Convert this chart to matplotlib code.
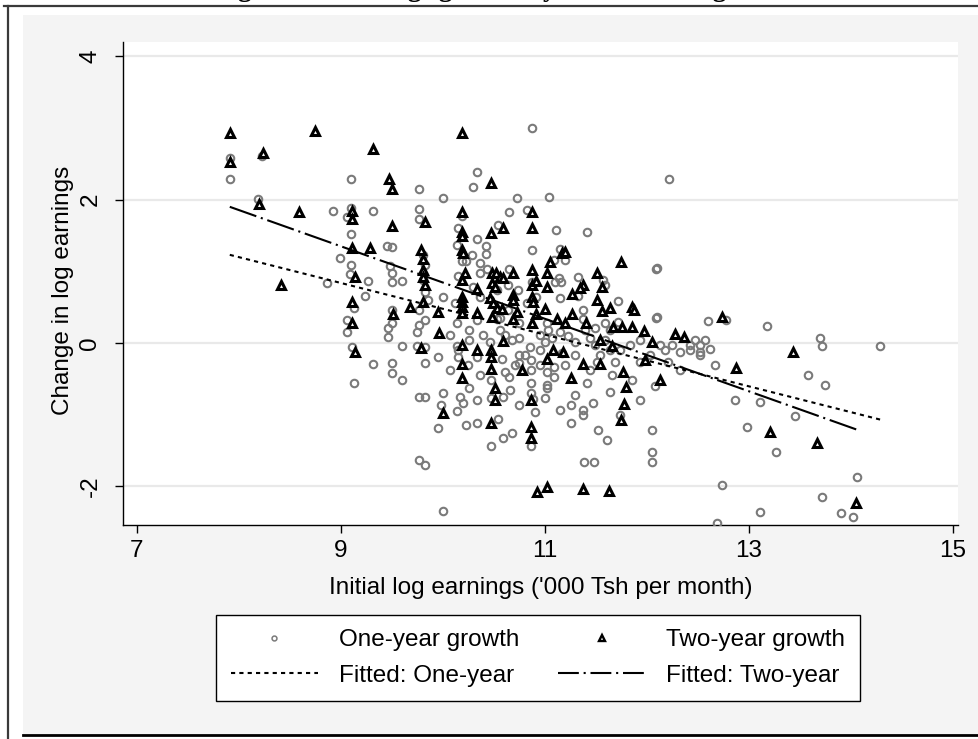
import matplotlib
matplotlib.use("Agg")
import matplotlib.pyplot as plt
from matplotlib.lines import Line2D
from matplotlib.patches import Rectangle
from matplotlib import font_manager

# ---------------- data ----------------
one_year_x = [7.91, 7.91, 8.23, 8.19, 8.92, 8.86, 8.99,
              9.10, 9.10, 9.06, 9.10, 9.10, 9.09, 9.06, 9.13, 9.06, 9.11, 9.13,
              9.31, 9.27, 9.24, 9.31,
              9.45, 9.50, 9.48, 9.50, 9.50, 9.60, 9.50, 9.50, 9.46, 9.46, 9.60, 9.50, 9.50, 9.60,
              9.77, 9.77, 9.77, 9.80, 9.82, 9.82, 9.77, 9.82, 9.75, 9.77, 9.75, 9.82, 9.82, 9.77, 9.82, 9.77, 9.82, 9.85, 9.80,
              9.95, 9.95, 10.00, 10.00, 10.00, 9.98, 10.00,
              10.87, 10.33, 10.29, 10.73, 11.04, 10.65, 10.82, 10.19, 10.54, 10.15, 11.11, 11.41, 10.33, 10.14, 10.42, 10.42,
              10.19, 10.23, 10.28, 10.36, 10.87, 11.15, 11.20, 11.09, 11.32, 11.57, 11.59, 12.10, 10.15, 10.36, 10.43, 10.65,
              10.87, 11.14, 11.16, 11.10, 10.74, 10.29, 10.36, 10.53, 10.64, 10.91, 11.15, 11.32, 11.37, 11.72, 11.72, 12.10,
              11.59, 10.82, 10.64, 10.12, 10.33, 10.14, 10.53, 10.75, 11.02, 11.37,
              10.14, 10.15, 10.15, 10.33, 10.33, 10.14, 10.17, 10.20, 10.23, 10.33, 10.47, 10.47, 10.47, 10.54, 10.59, 10.59,
              10.68, 10.65, 10.75, 10.75, 10.86, 10.86, 10.86, 10.86, 10.88, 10.90, 10.86, 11.02, 11.02, 11.02, 11.09, 11.09,
              11.17, 11.26, 11.37, 11.37, 11.26, 11.41, 11.47, 11.51, 10.58, 10.46, 10.85,
              11.38, 11.48, 12.05, 12.05, 12.05, 11.74, 11.93, 12.08, 11.66, 11.93, 11.64, 11.85, 12.18, 12.42, 12.52, 12.57,
              12.21, 12.32, 11.52, 11.61,
              12.22, 12.09, 12.09, 12.60, 12.78, 13.18, 12.52, 12.62, 12.67, 12.86, 12.98, 13.11, 13.45, 13.27, 12.74, 12.69,
              13.11, 13.72, 13.90, 14.02, 14.06, 13.70, 13.72, 14.29, 13.75, 13.58, 12.25, 12.32, 12.42, 12.47, 12.52,
              10.56, 10.61, 10.68, 10.75, 10.95, 11.00, 11.07, 11.15, 11.23, 11.29, 11.44, 11.49, 11.59, 11.64, 11.29, 11.20,
              10.95, 10.80, 10.71, 10.61, 10.39, 10.26, 10.25, 10.36, 10.26, 10.07, 10.66, 10.75, 11.00, 11.15, 11.29, 11.44,
              11.54, 11.74, 11.83, 11.93, 12.03, 12.13, 11.69, 10.95, 11.03, 11.39, 11.49, 11.64, 10.56, 10.26, 10.07]
one_year_y = [2.58, 2.29, 2.61, 2.01, 1.84, 0.84, 1.19,
              2.29, 1.88, 1.76, 1.52, 1.09, 0.96, 0.32, 0.49, 0.15, -0.06, -0.56,
              1.84, 0.86, 0.66, -0.29,
              1.35, 1.34, 1.07, 0.98, 0.85, 0.86, 0.46, 0.28, 0.21, 0.08, -0.04, -0.28, -0.42, -0.52,
              2.15, 1.87, 1.73, 1.23, 1.09, 0.71, 0.46, 0.32, 0.15, 0.25, -0.04, -0.06, -0.28, -0.75, -0.75, -1.63, -1.70, 0.60, 0.88,
              -0.20, -1.19, -0.70, 2.02, -2.34, -0.86, 0.64,
              3.00, 2.38, 2.18, 2.02, 2.04, 1.83, 1.85, 1.77, 1.65, 1.60, 1.58, 1.55, 1.45, 1.37, 1.35, 1.24,
              1.14, 1.14, 1.23, 1.12, 1.30, 1.31, 1.16, 1.16, 0.92, 0.88, 0.81, 1.05, 0.93, 0.98, 1.03, 1.03,
              0.85, 0.91, 0.85, 0.85, 0.74, 0.78, 0.64, 0.74, 0.81, 0.64, 0.63, 0.66, 0.46, 0.59, 0.29, 0.36,
              0.28, 0.56, 0.46, 0.56, 0.32, 0.28, 0.33, 0.28, 0.28, 0.33,
              -0.04, -0.10, -0.20, -0.20, -0.79, -0.95, -0.75, -0.84, -1.14, -1.12, -0.52, -0.77, -1.44, -1.06, -0.75, -1.32,
              -1.26, -0.47, -0.17, -0.28, -0.24, -0.38, -0.56, -0.70, -0.78, -0.96, -1.44, -0.40, -0.59, -0.63, -0.33, -0.47,
              -0.14, -0.86, -0.93, -1.00, -1.12, -0.56, -0.84, -0.26, -0.22, 0.01, -0.06,
              -1.66, -1.66, -1.21, -1.52, -1.66, -1.00, -0.79, -0.60, -0.45, -0.26, -0.68, -0.52, -0.10, -0.10, -0.17, 0.04,
              -0.26, -0.38, -1.21, -1.35,
              2.29, 1.03, 0.35, 0.31, 0.32, 0.24, -0.13, -0.08, -0.31, -0.79, -1.17, -0.82, -1.02, -1.52, -1.98, -2.51,
              -2.36, -2.15, -2.37, -2.43, -1.87, 0.07, -0.04, -0.04, -0.59, -0.45, -0.03, -0.13, -0.03, 0.04, -0.03,
              0.18, 0.11, 0.04, 0.07, 0.11, 0.01, 0.07, 0.15, 0.10, 0.01, 0.07, -0.03, 0.04, -0.10, -0.17, -0.31,
              -0.31, -0.17, -0.31, -0.40, 0.11, 0.04, -0.31, -0.45, -0.63, -0.38, -0.66, -0.86, -0.77, -0.93, -0.73, -0.38,
              -0.17, -0.10, -0.03, 0.04, -0.17, -0.03, -0.26, -0.10, 0.18, 0.18, 0.21, 0.18, 0.35, 0.18, 0.11]

two_year_x = [7.91, 7.91, 8.24, 8.20, 8.75, 8.59, 9.31, 9.47, 9.50, 9.11, 9.11, 9.50, 9.11, 9.28, 8.41, 9.14,
              9.78, 9.82, 9.80, 9.80, 9.80, 9.82, 9.68, 9.51, 9.11, 9.11, 9.80, 9.95, 9.14, 9.78,
              10.19, 10.47, 10.19, 10.19, 10.19, 10.19, 10.20, 10.59, 10.47, 10.87, 10.87, 11.17, 11.20, 11.05, 11.75,
              10.22, 10.48, 10.52, 10.56, 10.59, 10.69, 10.87, 11.02, 11.51, 10.19, 10.33, 10.48, 10.51, 10.87, 10.91,
              11.02, 11.37, 11.34, 11.56, 11.27, 11.51, 11.64, 11.56, 11.85, 11.87, 10.19, 10.19, 10.19, 10.19,
              10.46, 10.49, 10.53, 10.69, 10.69, 10.87, 10.88, 10.58, 10.73, 10.91, 11.00, 11.12, 11.20, 11.27, 11.40,
              11.67, 11.76, 11.85, 10.33, 10.48, 10.69, 10.87,
              10.47, 10.47, 10.47, 10.51, 10.51, 10.47, 10.86, 10.86, 10.86, 11.02, 11.37, 11.26, 10.78, 10.59,
              10.19, 10.19, 10.00, 10.33, 10.19, 11.08, 11.18, 10.92, 11.02, 11.37, 11.63, 12.74,
              11.54, 11.66, 11.77, 11.79, 11.78, 11.75, 11.97, 12.05, 12.28, 12.36, 12.87, 13.21, 13.43, 13.67, 14.05,
              11.98, 11.54, 12.13, 9.96]
two_year_y = [2.93, 2.52, 2.65, 1.94, 2.96, 1.83, 2.71, 2.29, 2.15, 1.84, 1.73, 1.63, 1.32, 1.32, 0.81, 0.92,
              1.30, 1.69, 1.17, 1.02, 0.92, 0.81, 0.50, 0.40, 0.57, 0.28, 0.57, 0.43, -0.13, -0.07,
              2.93, 2.23, 1.83, 1.55, 1.49, 1.30, 1.26, 1.60, 1.53, 1.83, 1.60, 1.26, 1.27, 1.13, 1.13,
              0.98, 0.98, 0.98, 0.92, 0.91, 0.98, 1.02, 0.98, 0.98, 0.88, 0.75, 0.84, 0.78, 0.81, 0.86,
              0.78, 0.81, 0.77, 0.78, 0.68, 0.60, 0.49, 0.45, 0.50, 0.46, 0.64, 0.57, 0.50, 0.42,
              0.63, 0.56, 0.49, 0.67, 0.60, 0.64, 0.57, 0.47, 0.43, 0.40, 0.47, 0.33, 0.28, 0.40, 0.28,
              0.22, 0.22, 0.22, 0.42, 0.36, 0.33, 0.28,
              -0.10, -0.20, -0.36, -0.63, -0.79, -1.12, -0.79, -1.17, -1.32, -0.22, -0.29, -0.49, -0.38, 0.03,
              -0.29, -0.49, -0.98, -0.10, -0.03, -0.10, -0.13, -2.08, -2.01, -2.04, -2.06, 0.36,
              0.04, -0.04, -0.40, -0.61, -0.85, -1.07, 0.17, 0.01, 0.13, 0.08, -0.35, -1.24, -0.13, -1.39, -2.23,
              -0.24, -0.29, -0.52, 0.14]

fit_one_x = [7.91, 14.29]
fit_one_y = [1.23, -1.07]
fit_two_x = [7.91, 14.06]
fit_two_y = [1.90, -1.21]

x_ticks = [7, 9, 11, 13, 15]
y_ticks = [-2, 0, 2, 4]
x_label = "Initial log earnings ('000 Tsh per month)"
y_label = "Change in log earnings"
title_text = "Figure 4: Earnings growth by initial earnings"
legend_labels = ["One-year growth", "Two-year growth", "Fitted: One-year", "Fitted: Two-year"]

# ---------------- style ----------------
names = {f.name for f in font_manager.fontManager.ttflist}
if "Liberation Sans Narrow" in names:
    fam, fs = "Liberation Sans Narrow", 21.5
else:
    fam, fs = "Liberation Sans", 17.5
plt.rcParams["font.family"] = [fam, "DejaVu Sans"]
plt.rcParams["axes.unicode_minus"] = False

W, H = 979, 739
fig = plt.figure(figsize=(W / 100, H / 100), dpi=100)
fig.patch.set_facecolor("white")

def fx(p):
    return p / W

def fy(p):
    return 1 - p / H

# outer gray panel and frame lines
fig.add_artist(Rectangle((fx(23), fy(735)), fx(979) - fx(23), fy(15) - fy(735),
                         transform=fig.transFigure, facecolor="#f4f4f4",
                         edgecolor="none", zorder=-5))
fig.add_artist(Line2D([fx(4), fx(979)], [fy(6), fy(6)], transform=fig.transFigure,
                      color="#3a3a3a", lw=1.6, zorder=5))
fig.add_artist(Line2D([fx(8), fx(8)], [fy(6), fy(739)], transform=fig.transFigure,
                      color="#3a3a3a", lw=1.6, zorder=5))
fig.add_artist(Line2D([fx(23), fx(979)], [fy(735), fy(735)], transform=fig.transFigure,
                      color="black", lw=2, zorder=5))

# title of the page figure, cropped at the top edge (only descenders visible)
fig.text(fx(475), 1 + 4.5 / H, title_text, ha="center", va="baseline",
         family="Liberation Serif", fontweight="bold", fontsize=19.5)

ax = fig.add_axes([fx(123), fy(525), fx(958) - fx(123), fy(42) - fy(525)])
ax.set_facecolor("white")
ax.set_xlim(6.863, 15.05)
ax.set_ylim(-2.54, 4.20)

for s in ["top", "right"]:
    ax.spines[s].set_visible(False)
for s in ["left", "bottom"]:
    ax.spines[s].set_color("black")
    ax.spines[s].set_linewidth(1.0)

ax.set_xticks(x_ticks)
ax.set_yticks(y_ticks)
ax.yaxis.grid(True, color="#e9e9e9", lw=1.6)
ax.set_axisbelow(True)
ax.tick_params(axis="both", direction="out", length=5.5, width=1, color="black",
               labelsize=fs)
ax.tick_params(axis="x", pad=5)
ax.tick_params(axis="y", pad=10, labelrotation=90)
for lab in ax.get_yticklabels():
    lab.set_va("center")

ax.set_xlabel(x_label, fontsize=fs, va="center")
ax.xaxis.set_label_coords(0.5, (525 - 588) / 483)
ax.set_ylabel(y_label, fontsize=fs, va="center")
ax.yaxis.set_label_coords((63 - 123) / 835, (525 - 290) / 483)

ax.plot(one_year_x, one_year_y, ls="none", marker="o", ms=5.4, mfc="none",
        mec="#7a7a7a", mew=1.5, zorder=3)
ax.plot(two_year_x, two_year_y, ls="none", marker="^", ms=6.0, mfc="white",
        mec="black", mew=2.2, zorder=4)
ax.plot(fit_one_x, fit_one_y, color="black", lw=1.5, ls=(0, (2, 2)), zorder=5)
ax.plot(fit_two_x, fit_two_y, color="black", lw=1.5, ls=(0, (13.5, 2.3, 1, 2.3)), zorder=5)

h_one = Line2D([], [], ls="none", marker="o", ms=3.5, mfc="none", mec="#7a7a7a", mew=1.1)
h_two = Line2D([], [], ls="none", marker="^", ms=4.2, mfc="white", mec="black", mew=1.7)
h_f1 = Line2D([], [], color="black", lw=1.5, ls=(0, (2, 2)))
h_f2 = Line2D([], [], color="black", lw=1.5, ls=(0, (10, 2.3, 1, 2.3)))
leg = ax.legend([h_one, h_f1, h_two, h_f2],
                [legend_labels[0], legend_labels[2], legend_labels[1], legend_labels[3]],
                ncol=2, loc="center", bbox_to_anchor=(fx(538), fy(658)),
                bbox_transform=fig.transFigure, fontsize=fs, frameon=True,
                fancybox=False, edgecolor="black", facecolor="white", framealpha=1,
                handlelength=3.6, handletextpad=0.85, columnspacing=1.6,
                labelspacing=0.55, borderpad=0.6)
leg.get_frame().set_linewidth(1.0)

fig.savefig("out.png", dpi=100)
